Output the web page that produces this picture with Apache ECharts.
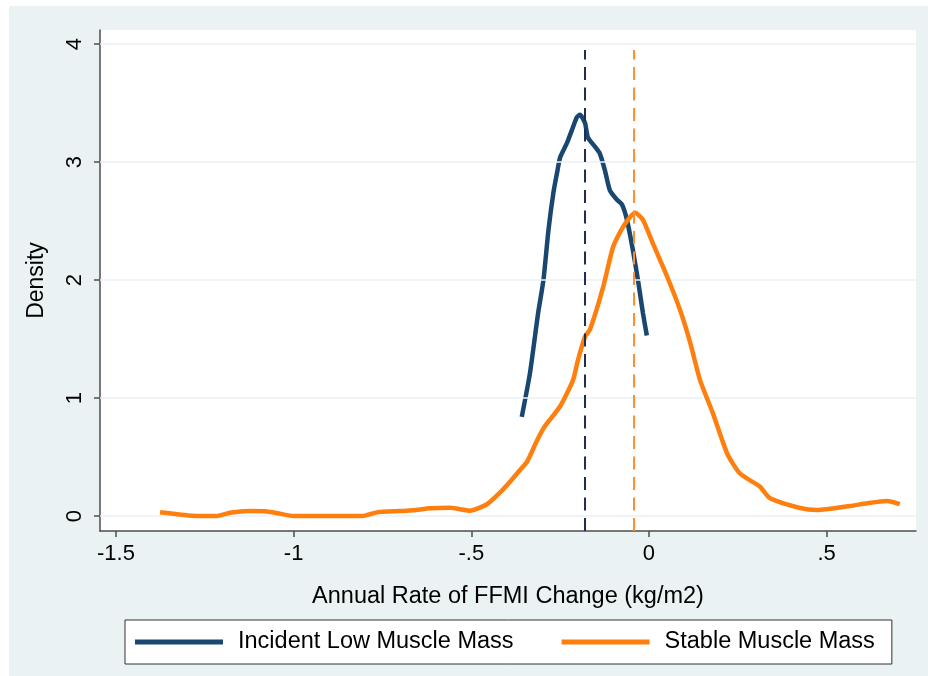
<!DOCTYPE html>
<html>
<head>
<meta charset="utf-8">
<script src="https://cdn.jsdelivr.net/npm/echarts@6/dist/echarts.min.js"></script>
<style>
  html, body { margin: 0; padding: 0; background: #fff; }
  #chart { width: 928px; height: 676px; }
</style>
</head>
<body>
<div id="chart"></div>
<script>
// kernel density, stable muscle mass
const stableX = [-1.376, -1.272, -1.216, -1.179, -1.123, -1.075, -1.039, -1.002, -0.898, -0.805,
  -0.766, -0.701, -0.664, -0.616, -0.560, -0.504, -0.456, -0.419, -0.391, -0.363,
  -0.343, -0.315, -0.293, -0.250, -0.214, -0.200, -0.180, -0.166, -0.129, -0.101,
  -0.073, -0.039, -0.017, 0.011, 0.051, 0.087, 0.115, 0.144, 0.180, 0.220,
  0.256, 0.312, 0.341, 0.425, 0.473, 0.566, 0.614, 0.670, 0.706]
const stableY = [0.031, 0.0, 0.0, 0.028, 0.042, 0.038, 0.02, 0.0, 0.0, 0.0,
  0.031, 0.042, 0.048, 0.065, 0.07, 0.045, 0.10, 0.20, 0.29, 0.39,
  0.46, 0.64, 0.76, 0.93, 1.15, 1.32, 1.52, 1.58, 1.94, 2.28,
  2.45, 2.57, 2.51, 2.31, 2.03, 1.75, 1.48, 1.15, 0.87, 0.53,
  0.36, 0.25, 0.15, 0.068, 0.051, 0.085, 0.108, 0.127, 0.10]

// kernel density, incident low muscle mass
const incidentX = [-0.358, -0.335, -0.312, -0.297, -0.283, -0.269, -0.258, -0.250, -0.231, -0.217,
  -0.203, -0.194, -0.180, -0.172, -0.152, -0.138, -0.124, -0.110, -0.090, -0.076,
  -0.062, -0.045, -0.031, -0.017, -0.006]
const incidentY = [0.84, 1.21, 1.72, 2.00, 2.42, 2.74, 2.92, 3.04, 3.16, 3.27,
  3.38, 3.40, 3.33, 3.21, 3.13, 3.07, 2.93, 2.76, 2.68, 2.64,
  2.51, 2.25, 2.00, 1.72, 1.53]

// group means (dashed reference lines)
const incidentMean = -0.180
const stableMean = -0.042

const xTicks = [-1.5, -1, -0.5, 0, 0.5]
const xTickLabels = ['-1.5', '-1', '-.5', '0', '.5']
const yTicks = [0, 1, 2, 3, 4]

const X_MIN = -1.545
const X_MAX = 0.7515
const Y_MIN = -0.127
const Y_MAX = 4.119
const REF_TOP = 3.95

const NAVY = '#1a476f'
const ORANGE = '#ff7f0e'
const BG = '#eaf2f3'
const FONT = 'Liberation Sans, Arial, sans-serif'

const pairs = (xs, ys) => xs.map((x, i) => [x, ys[i]])

const chart = echarts.init(document.getElementById('chart'), null, { renderer: 'canvas' })

chart.setOption({
  backgroundColor: '#fff',
  animation: false,
  textStyle: { fontFamily: FONT },
  graphic: [{
    type: 'rect',
    z: -10,
    silent: true,
    shape: { x: 9, y: 6, width: 919, height: 670 },
    style: { fill: BG }
  }],
  grid: {
    left: 100,
    right: 12,
    top: 30,
    bottom: 145,
    show: true,
    backgroundColor: '#fff',
    borderWidth: 0
  },
  legend: {
    left: 125,
    top: 620,
    orient: 'horizontal',
    data: [
      { name: 'Incident Low Muscle Mass', icon: 'rect' },
      { name: 'Stable Muscle Mass', icon: 'rect' }
    ],
    backgroundColor: '#fff',
    borderColor: '#333',
    borderWidth: 1,
    borderRadius: 0,
    padding: [10, 17, 10, 10],
    itemWidth: 88,
    itemHeight: 5,
    itemGap: 48,
    textStyle: { fontSize: 23.5, lineHeight: 23, color: '#000', fontFamily: FONT, padding: [0, 0, 0, 10] }
  },
  xAxis: {
    type: 'value',
    min: X_MIN,
    max: X_MAX,
    name: 'Annual Rate of FFMI Change (kg/m2)',
    nameLocation: 'middle',
    nameGap: 54,
    nameTextStyle: { fontSize: 23.5, color: '#000' },
    axisLine: { show: true, onZero: false, lineStyle: { color: '#4d4d4d', width: 1.5 } },
    axisTick: { show: true, length: 6, customValues: xTicks, lineStyle: { color: '#4d4d4d', width: 1.5 } },
    axisLabel: {
      customValues: xTicks,
      margin: 12,
      fontSize: 22,
      color: '#000',
      formatter: v => xTickLabels[xTicks.indexOf(v)] ?? ''
    },
    splitLine: { show: false }
  },
  yAxis: {
    type: 'value',
    min: Y_MIN,
    max: Y_MAX,
    name: 'Density',
    nameLocation: 'middle',
    nameGap: 52,
    nameRotate: 90,
    nameTextStyle: { fontSize: 23, color: '#000' },
    axisLine: { show: true, onZero: false, lineStyle: { color: '#4d4d4d', width: 1.5 } },
    axisTick: { show: true, length: 6, customValues: yTicks, lineStyle: { color: '#4d4d4d', width: 1.5 } },
    axisLabel: {
      customValues: yTicks,
      rotate: 90,
      margin: 14,
      fontSize: 22,
      color: '#000',
      formatter: v => String(v)
    },
    splitLine: { show: false }
  },
  series: [{
    // horizontal gridlines
    type: 'line',
    name: 'grid',
    data: [],
    z: 1,
    markLine: {
      silent: true,
      symbol: 'none',
      label: { show: false },
      lineStyle: { color: BG, width: 1.5, type: 'solid' },
      data: yTicks.map(v => ({ yAxis: v }))
    }
  }, {
    type: 'line',
    name: 'Incident Low Muscle Mass',
    data: pairs(incidentX, incidentY),
    showSymbol: false,
    symbol: 'none',
    smooth: 0.2,
    z: 4,
    lineStyle: { color: NAVY, width: 4.5 },
    itemStyle: { color: NAVY }
  }, {
    type: 'line',
    name: 'Stable Muscle Mass',
    data: pairs(stableX, stableY),
    showSymbol: false,
    symbol: 'none',
    smooth: 0.2,
    z: 5,
    lineStyle: { color: ORANGE, width: 4.5 },
    itemStyle: { color: ORANGE }
  }, {
    type: 'line',
    name: 'incident mean',
    data: [[incidentMean, Y_MIN], [incidentMean, REF_TOP]],
    showSymbol: false,
    symbol: 'none',
    z: 6,
    lineStyle: { color: '#1f2d55', width: 2, type: [13, 7.5] }
  }, {
    type: 'line',
    name: 'stable mean',
    data: [[stableMean, Y_MIN], [stableMean, REF_TOP]],
    showSymbol: false,
    symbol: 'none',
    z: 6,
    lineStyle: { color: '#ff8c2e', width: 2, type: [13, 7.5] }
  }]
})
</script>
</body>
</html>
